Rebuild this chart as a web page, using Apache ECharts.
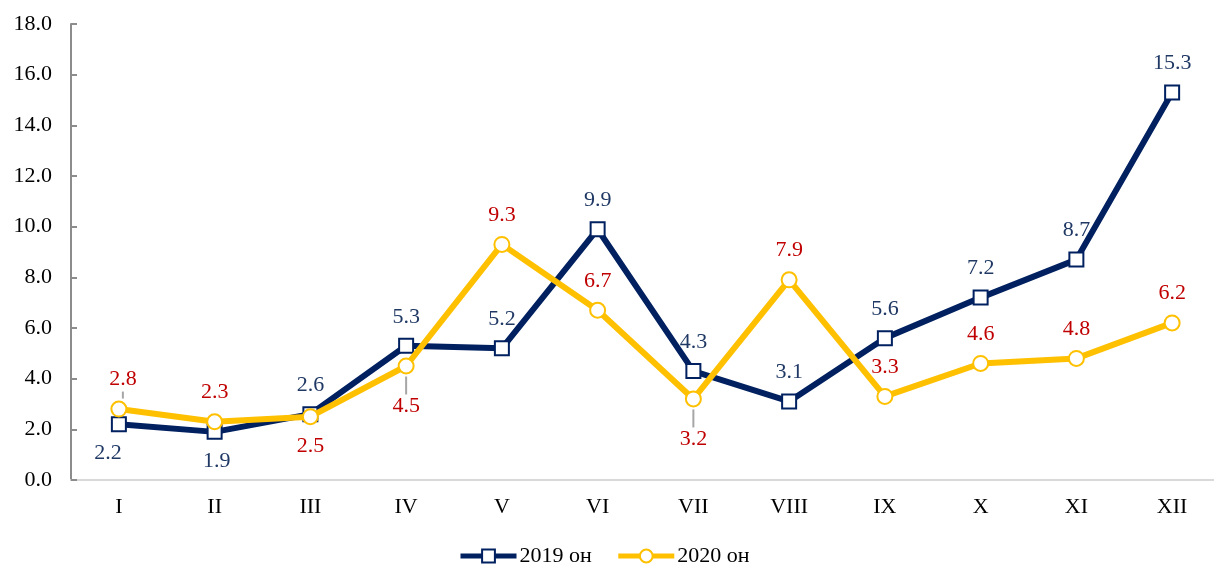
<!DOCTYPE html>
<html>
<head>
<meta charset="utf-8">
<script src="https://cdn.jsdelivr.net/npm/echarts@6/dist/echarts.min.js"></script>
<style>
  html, body { margin: 0; padding: 0; background: #fff; overflow: hidden; }
  #chart { width: 1220px; height: 566px; }
</style>
</head>
<body>
<div id="chart"></div>
<script>
var months = ["I", "II", "III", "IV", "V", "VI", "VII", "VIII", "IX", "X", "XI", "XII"];
var y2019 = [2.2, 1.9, 2.6, 5.3, 5.2, 9.9, 4.3, 3.1, 5.6, 7.2, 8.7, 15.3];
var y2020 = [2.8, 2.3, 2.5, 4.5, 9.3, 6.7, 3.2, 7.9, 3.3, 4.6, 4.8, 6.2];
var names = ["2019 он", "2020 он"];

// label placement: side of the point, horizontal nudge, and leader line length (0 = none)
var pos2019 = ["bottom", "bottom", "top", "top", "top", "top", "top", "top", "top", "top", "top", "top"];
var pos2020 = ["top", "top", "bottom", "bottom", "top", "top", "bottom", "top", "top", "top", "top", "top"];
var shift2019 = [-11, 2, 0, 0, 0, 0, 0, 0, 0, 0, 0, 0];
var shift2020 = [4, 0, 0, 0, 0, 0, 0, 0, 0, 0, 0, 0];
var leader2020 = [7, 0, 0, 18, 0, 0, 18, 0, 0, 0, 0, 0];

var font = "'Liberation Serif', 'Times New Roman', serif";
var fs = 22;

function buildData(values, positions, shifts, leaders) {
  return values.map(function (v, i) {
    var item = { value: v, label: { position: positions[i], offset: [shifts[i], 0] } };
    if (leaders && leaders[i]) {
      var txt = "{v|" + v.toFixed(1) + "}";
      var ln = "{l" + leaders[i] + "|}";
      item.label.distance = 2;
      item.label.formatter = positions[i] === "top" ? txt + "\n" + ln : ln + "\n" + txt;
    }
    return item;
  });
}

var richStyle = {
  v: { fontFamily: font, fontSize: fs, color: "#c00000", lineHeight: 24 },
  l7: { width: 2, height: 7, backgroundColor: "#a6a6a6", align: "center" },
  l18: { width: 2, height: 18, backgroundColor: "#a6a6a6", align: "center" }
};

var chart = echarts.init(document.getElementById("chart"));
var option = {
  animation: false,
  grid: { left: 71, right: 0, top: 24, bottom: 86 },
  legend: {
    bottom: -6,
    left: 453,
    itemWidth: 56,
    itemHeight: 16,
    itemGap: 24,
    textStyle: { fontFamily: font, fontSize: fs, color: "#000", padding: [0, 0, 0, -2] },
    data: [
      { name: names[0], lineStyle: { width: 5 } },
      { name: names[1], lineStyle: { width: 5 } }
    ]
  },
  xAxis: {
    type: "category",
    data: months,
    axisLine: { lineStyle: { color: "#d9d9d9", width: 2 } },
    axisTick: { show: false },
    axisLabel: { margin: 16, fontFamily: font, fontSize: fs, color: "#000" }
  },
  yAxis: {
    type: "value",
    min: 0,
    max: 18,
    interval: 2,
    axisLine: { show: true, lineStyle: { color: "#8c8c8c", width: 2 } },
    axisTick: { show: true, inside: true, length: 6, lineStyle: { color: "#8c8c8c", width: 2 } },
    splitLine: { show: false },
    axisLabel: {
      margin: 19,
      fontFamily: font,
      fontSize: fs,
      color: "#000",
      formatter: function (v) { return v.toFixed(1); }
    }
  },
  series: [
    {
      name: names[0],
      type: "line",
      color: "#002060",
      data: buildData(y2019, pos2019, shift2019),
      symbol: "rect",
      symbolSize: 14,
      lineStyle: { color: "#002060", width: 6 },
      itemStyle: { color: "#fff", borderColor: "#002060", borderWidth: 2 },
      label: {
        show: true,
        distance: 10,
        fontFamily: font,
        fontSize: fs,
        color: "#1f3864",
        formatter: function (p) { return p.value.toFixed(1); }
      },
      z: 3
    },
    {
      name: names[1],
      type: "line",
      color: "#ffc000",
      data: buildData(y2020, pos2020, shift2020, leader2020),
      symbol: "circle",
      symbolSize: 15,
      lineStyle: { color: "#ffc000", width: 6 },
      itemStyle: { color: "#fff", borderColor: "#ffc000", borderWidth: 2 },
      label: {
        show: true,
        distance: 10,
        fontFamily: font,
        fontSize: fs,
        color: "#c00000",
        rich: richStyle,
        formatter: function (p) { return p.value.toFixed(1); }
      },
      z: 4
    }
  ]
};
chart.setOption(option);
</script>
</body>
</html>
